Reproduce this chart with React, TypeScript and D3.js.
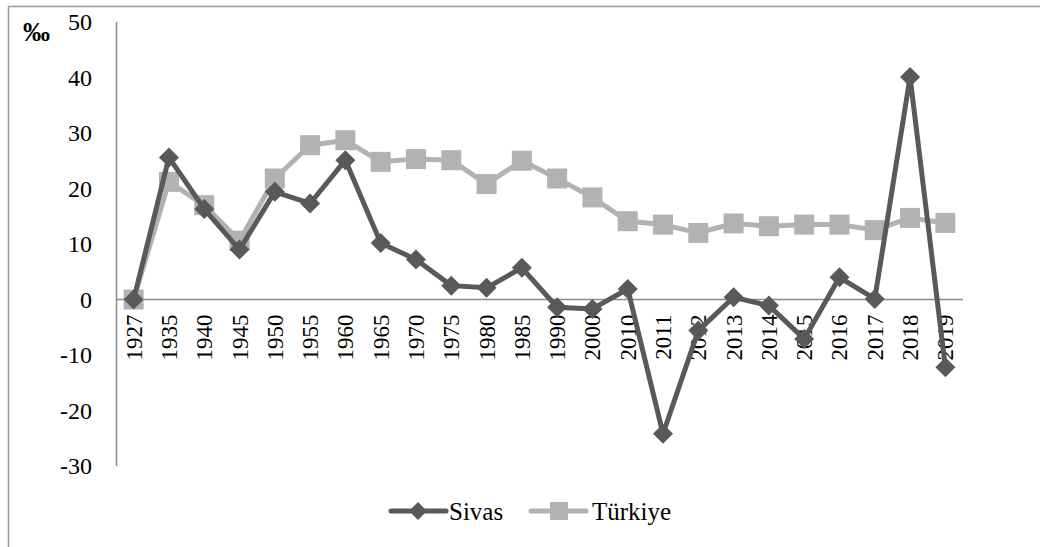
import * as d3 from 'd3'

const years = ['1927', '1935', '1940', '1945', '1950', '1955', '1960', '1965', '1970', '1975', '1980', '1985', '1990', '2000', '2010', '2011', '2012', '2013', '2014', '2015', '2016', '2017', '2018', '2019']
const sivas = [0, 25.6, 16.3, 9, 19.4, 17.3, 25.1, 10.2, 7.2, 2.5, 2.1, 5.7, -1.4, -1.7, 1.9, -24.2, -5.6, 0.4, -1.1, -7.1, 4.0, 0.1, 40.1, -12.2]
const turkiye = [0, 21.2, 17.0, 10.6, 21.8, 27.8, 28.7, 24.8, 25.3, 25.1, 20.8, 25.0, 21.8, 18.4, 14.1, 13.5, 12.0, 13.7, 13.2, 13.5, 13.5, 12.5, 14.7, 13.8]
const yTicks = [50, 40, 30, 20, 10, 0, -10, -20, -30]

const W = 1040
const H = 547
const font = 'Liberation Serif, DejaVu Serif, serif'
const dark = '#595959'
const light = '#b2b2b2'

export default function App() {
  const x = d3.scaleBand().domain(years).range([116, 963])
  const y = d3.scaleLinear().domain([-30, 50]).range([466, 22])
  const cx = (d: string) => (x(d) as number) + x.bandwidth() / 2

  const line = d3
    .line<number>()
    .x((_, i) => cx(years[i]))
    .y((v) => y(v))

  const diamond = (px: number, py: number, r: number) =>
    `M${px},${py - r}L${px + r},${py}L${px},${py + r}L${px - r},${py}Z`

  return (
    <svg width={W} height={H} style={{ position: 'absolute', left: 0, top: 0, display: 'block', background: '#fff' }}>
      {/* frame */}
      <path d={`M8.5,${H}V6.5H${W}`} fill="none" stroke="#9a9a9a" strokeWidth={1.5} />

      {/* y axis */}
      <line x1={116.5} x2={116.5} y1={y(50)} y2={y(-30)} stroke="#8c8c8c" strokeWidth={1.5} />
      {yTicks.map((t) => (
        <text key={t} x={92} y={y(t)} dy="0.35em" textAnchor="end" fontFamily={font} fontSize={24} fill="#000">
          {t}
        </text>
      ))}
      <text x={23} y={41} fontFamily={font} fontSize={27} fontWeight="bold" fill="#000">‰</text>

      {/* zero line */}
      <line x1={116} x2={963} y1={y(0)} y2={y(0)} stroke="#8c8c8c" strokeWidth={1.5} />

      {/* x labels */}
      {years.map((d) => (
        <text
          key={d}
          transform={`translate(${cx(d) + 8},${y(0) + 15}) rotate(-90)`}
          textAnchor="end"
          fontFamily={font}
          fontSize={23}
          fill="#000"
        >
          {d}
        </text>
      ))}

      {/* Türkiye */}
      <path d={line(turkiye) || ''} fill="none" stroke={light} strokeWidth={5} strokeLinejoin="round" />
      {turkiye.map((v, i) => (
        <rect key={i} x={cx(years[i]) - 10} y={y(v) - 10} width={20} height={20} fill={light} />
      ))}

      {/* Sivas */}
      <path d={line(sivas) || ''} fill="none" stroke={dark} strokeWidth={5} strokeLinejoin="round" />
      {sivas.map((v, i) => (
        <path key={i} d={diamond(cx(years[i]), y(v), 10)} fill={dark} />
      ))}

      {/* legend */}
      <g>
        <line x1={391} x2={446} y1={511} y2={511} stroke={dark} strokeWidth={5} strokeLinecap="round" />
        <path d={diamond(418, 511, 9)} fill={dark} />
        <text x={449} y={511} dy="0.35em" fontFamily={font} fontSize={25} fill="#000">Sivas</text>
        <line x1={531} x2={586} y1={511} y2={511} stroke={light} strokeWidth={5} strokeLinecap="round" />
        <rect x={550} y={502} width={18} height={18} fill={light} />
        <text x={592} y={511} dy="0.35em" fontFamily={font} fontSize={25} fill="#000">Türkiye</text>
      </g>
    </svg>
  )
}
